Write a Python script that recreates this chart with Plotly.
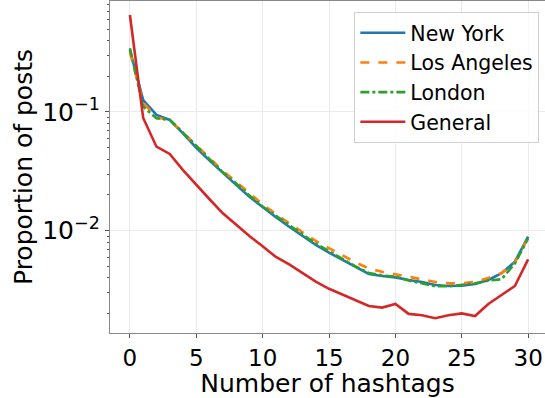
import plotly.graph_objects as go

hashtags = list(range(31))

new_york = [0.333, 0.126, 0.0944, 0.0857, 0.066, 0.050, 0.039, 0.0305, 0.0243, 0.0193,
            0.0157, 0.0130, 0.0108, 0.0090, 0.0076, 0.00653, 0.00567, 0.00492, 0.00432, 0.00415,
            0.00404, 0.00384, 0.00370, 0.00349, 0.00342, 0.00344, 0.00356, 0.00384, 0.00438, 0.00548,
            0.0089]
los_angeles = [0.32, 0.12, 0.090, 0.085, 0.067, 0.052, 0.041, 0.032, 0.0256, 0.0205,
               0.0167, 0.0138, 0.0115, 0.0097, 0.0082, 0.0071, 0.0062, 0.0054, 0.0048, 0.0045,
               0.0043, 0.0041, 0.0039, 0.0037, 0.0036, 0.0036, 0.0037, 0.0040, 0.0044, 0.0054,
               0.0087]
london = [0.344, 0.111, 0.0885, 0.086, 0.067, 0.052, 0.040, 0.031, 0.025, 0.0198,
          0.016, 0.0133, 0.0111, 0.0093, 0.0078, 0.0067, 0.0058, 0.0050, 0.0044, 0.0042,
          0.0041, 0.0038, 0.0036, 0.0034, 0.0034, 0.0035, 0.0036, 0.0038, 0.0039, 0.0053,
          0.0086]
general = [0.656, 0.089, 0.051, 0.0443, 0.0324, 0.0243, 0.0184, 0.0140, 0.0112, 0.0090,
           0.0074, 0.0060, 0.0052, 0.00438, 0.00372, 0.00324, 0.00289, 0.00261, 0.00232, 0.00225,
           0.00241, 0.00199, 0.00194, 0.00183, 0.00194, 0.00201, 0.00191, 0.00241, 0.00287, 0.00342,
           0.00574]

series = [
    ("New York", new_york, "#1f77b4", "solid"),
    ("Los Angeles", los_angeles, "#ff7f0e", "dash"),
    ("London", london, "#2ca02c", "dashdot"),
    ("General", general, "#d62728", "solid"),
]

x_ticks = [0, 5, 10, 15, 20, 25, 30]
y_major = [0.01, 0.1]
y_major_text = ["10<sup>\u22122</sup>", "10<sup>\u22121</sup>"]
y_minor = [m * 10 ** e for e in (-3, -2, -1) for m in range(2, 10)]

FONT = "DejaVu Sans"

fig = go.Figure()
for name, vals, color, dash in series:
    fig.add_trace(go.Scatter(
        x=hashtags, y=vals, mode="lines", name=name, legendgroup=name,
        line=dict(color=color, width=2.6, dash=dash),
    ))

fig.update_layout(
    width=545, height=398,
    margin=dict(l=110, r=0, t=1, b=65),
    paper_bgcolor="white", plot_bgcolor="white",
    font=dict(family=FONT, size=20, color="black"),
    showlegend=True,
    legend=dict(
        x=0.987, y=0.967, xanchor="right", yanchor="top",
        bgcolor="rgba(255,255,255,0.8)", bordercolor="#d0d0d0", borderwidth=1,
        font=dict(family=FONT, size=20.5, color="black"),
        itemwidth=45, tracegroupgap=2, traceorder="normal",
    ),
    xaxis=dict(
        range=[-1.5, 31.27],
        tickmode="array", tickvals=x_ticks,
        ticks="outside", ticklen=4, tickcolor="#555555",
        showline=True, linecolor="#888888", linewidth=1.3, mirror=True,
        showgrid=True, gridcolor="#ebebeb", gridwidth=1,
        zeroline=False,
        tickfont=dict(family=FONT, size=23),
        title=dict(text="Number of hashtags", font=dict(family=FONT, size=25), standoff=0),
    ),
    yaxis=dict(
        type="log",
        range=[-2.862, -0.065],
        tickmode="array", tickvals=y_major, ticktext=y_major_text,
        ticks="outside", ticklen=4, tickcolor="#555555",
        minor=dict(tickmode="array", tickvals=y_minor, ticks="outside", ticklen=2,
                   tickcolor="#555555", showgrid=False),
        showline=True, linecolor="#888888", linewidth=1.3, mirror=False,
        showgrid=True, gridcolor="#ebebeb", gridwidth=1,
        zeroline=False,
        tickfont=dict(family=FONT, size=25),
        title=dict(text="Proportion of posts", font=dict(family=FONT, size=25), standoff=2),
    ),
)

fig.write_html("out.html")
